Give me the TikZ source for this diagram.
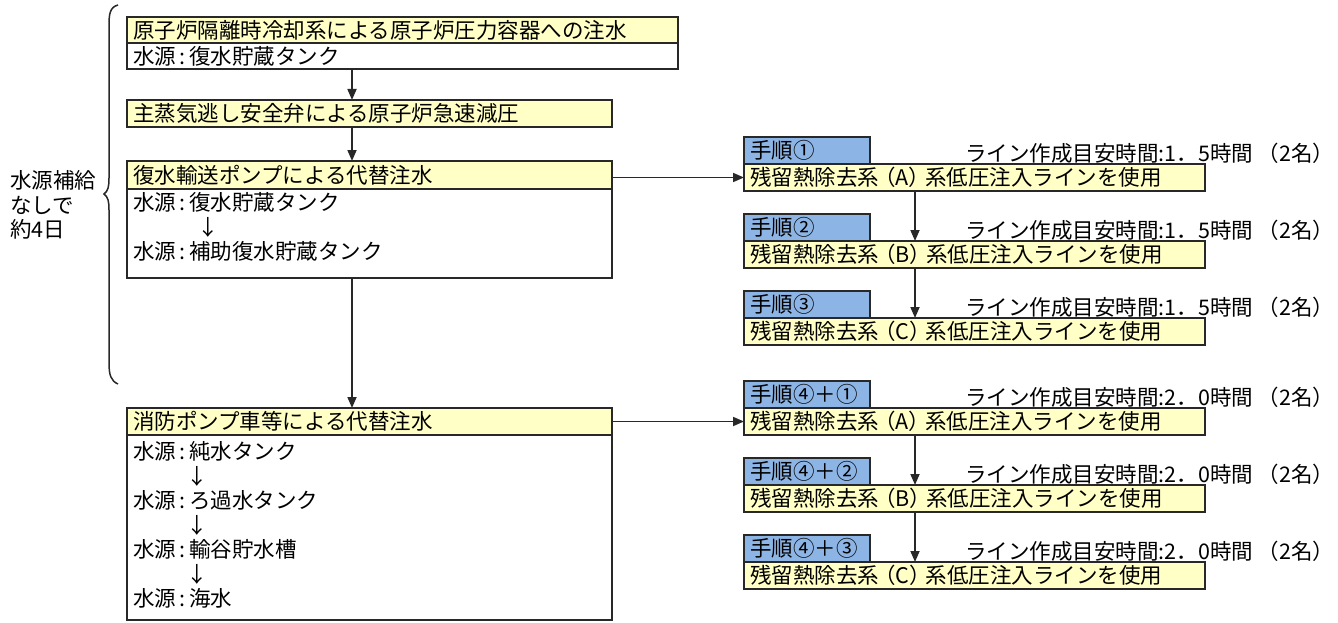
\documentclass[tikz,border=0pt]{standalone}
\usepackage{fontspec}
\setmainfont{Noto Sans CJK JP}
\usetikzlibrary{arrows.meta}
\definecolor{yel}{RGB}{255,255,198}
\definecolor{blu}{RGB}{140,180,228}
\definecolor{lc}{RGB}{40,40,40}
\newcommand{\src}{水源\,:\,}
\tikzset{
  boxbase/.style={draw=lc, line width=1.7pt, anchor=north west, inner xsep=6pt, inner ysep=0pt, align=left, outer sep=0pt},
  ybox/.style={boxbase, fill=yel},
  wbox/.style={boxbase, fill=white},
  tabbox/.style={boxbase, fill=blu},
  txt/.style={anchor=west, inner sep=0pt},
  lab/.style={anchor=base west, inner sep=0pt},
  arr/.style={draw=lc, line width=1.7pt, -{Triangle[length=11pt,width=9pt]}},
}
\begin{document}
\begin{tikzpicture}[x=1pt,y=-1pt,font=\fontsize{21.5pt}{25pt}\selectfont]
\useasboundingbox (0,0) rectangle (1338,623);
\coordinate (col) at (352,0);
\coordinate (rcol) at (915,0);

% left label and brace
\node[txt] (L1) at (10,180) {水源補給};
\node[txt] (L2) at (10,205) {なしで};
\node[txt] (L3) at (10,229) {約4日};
\draw[lc, line width=1.5pt] (118,5) .. controls (110,7) and (109,14) .. (109,25) -- (109,178)
  .. controls (109,187) and (108,191) .. (104,194) .. controls (108,197) and (109,201) .. (109,210)
  -- (109,363) .. controls (109,375) and (111,381) .. (118,384);

% main column
\node[ybox, text width=539pt, minimum height=26pt] (h1) at (127,17) {原子炉隔離時冷却系による原子炉圧力容器への注水};
\node[wbox, text width=539pt, minimum height=26pt] (b1) at (127,43) {\src 復水貯蔵タンク};
\node[ybox, text width=473pt, minimum height=27pt] (h2) at (127,100) {主蒸気逃し安全弁による原子炉急速減圧};
\node[ybox, text width=473pt, minimum height=28pt] (h3) at (127,161) {復水輸送ポンプによる代替注水};
\node[wbox, minimum width=485pt, minimum height=89pt] (b3) at (127,189) {};
\node[txt] (t31) at (133,202) {\src 復水貯蔵タンク};
\node[txt] (t32) at (197,227) {↓};
\node[txt] (t33) at (133,251) {\src 補助復水貯蔵タンク};

\node[ybox, text width=473pt, minimum height=27pt] (h4) at (127,408) {消防ポンプ車等による代替注水};
\node[wbox, minimum width=485pt, minimum height=185pt] (b4) at (127,435) {};
\node[txt] (t41) at (133,451) {\src 純水タンク};
\node[txt] (t42) at (186,476) {↓};
\node[txt] (t43) at (133,500) {\src ろ過水タンク};
\node[txt] (t44) at (186,525) {↓};
\node[txt] (t45) at (133,549) {\src 輸谷貯水槽};
\node[txt] (t46) at (186,574) {↓};
\node[txt] (t47) at (133,598) {\src 海水};

\draw[arr] (b1.south -| col) -- (h2.north -| col);
\draw[arr] (h2.south -| col) -- (h3.north -| col);
\draw[arr] (b3.south -| col) -- (h4.north -| col);

% right column
\foreach \ii/\yy/\ta/\sb/\tm in {
  1/164/{手順①}/A/{1．5},
  2/241/{手順②}/B/{1．5},
  3/318/{手順③}/C/{1．5},
  4/408/{手順④＋①}/A/{2．0},
  5/485/{手順④＋②}/B/{2．0},
  6/562/{手順④＋③}/C/{2．0}}{
  \node[tabbox, text width=114pt, minimum height=27pt] (q\ii) at (744,\yy-27) {\ta};
  \node[ybox, text width=449pt, minimum height=27pt] (p\ii) at (744,\yy) {残留熱除去系\hspace{-5pt}（{\sb}）\hspace{-5pt}系低圧注入ラインを使用};
  \node[lab] (l\ii) at (965,\yy-3) {ライン作成目安時間:{\tm}時間 （2名）};
}

\draw[arr] (p1.west -| h3.east) -- (p1.west);
\draw[arr] (h4.east) -- (h4.east -| p4.west);
\draw[arr] (p1.south -| rcol) -- (p2.north -| rcol);
\draw[arr] (p2.south -| rcol) -- (p3.north -| rcol);
\draw[arr] (p4.south -| rcol) -- (p5.north -| rcol);
\draw[arr] (p5.south -| rcol) -- (p6.north -| rcol);
\end{tikzpicture}
\end{document}
